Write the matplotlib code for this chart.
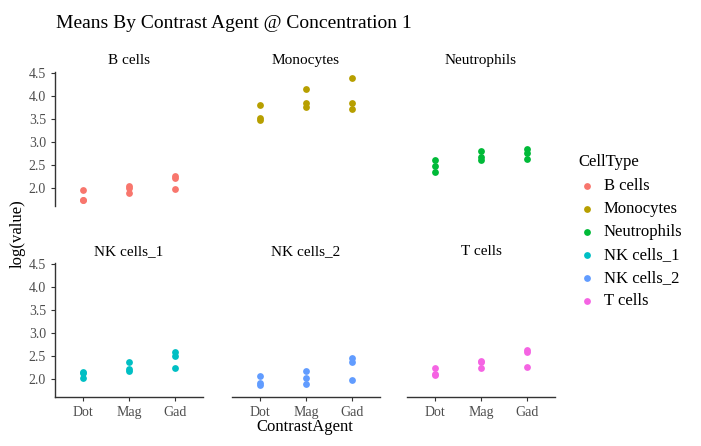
import matplotlib.pyplot as plt

plt.rcParams["font.family"] = ["Liberation Serif", "DejaVu Serif"]

agents = ["Dot", "Mag", "Gad"]
cell_types = ["B cells", "Monocytes", "Neutrophils", "NK cells_1", "NK cells_2", "T cells"]
colors = ["#F8766D", "#B79F00", "#00BA38", "#00BFC4", "#619CFF", "#F564E3"]

b_cells = [[1.95, 1.73, 1.74], [2.04, 2.00, 1.89], [2.26, 2.21, 1.97]]
monocytes = [[3.80, 3.52, 3.48], [4.14, 3.84, 3.76], [4.39, 3.84, 3.72]]
neutrophils = [[2.61, 2.47, 2.35], [2.81, 2.67, 2.61], [2.84, 2.77, 2.63]]
nk_cells_1 = [[2.16, 2.13, 2.03], [2.36, 2.21, 2.18], [2.58, 2.51, 2.23]]
nk_cells_2 = [[2.07, 1.91, 1.86], [2.17, 2.02, 1.90], [2.45, 2.37, 1.97]]
t_cells = [[2.25, 2.11, 2.08], [2.40, 2.37, 2.24], [2.64, 2.58, 2.26]]
series = [b_cells, monocytes, neutrophils, nk_cells_1, nk_cells_2, t_cells]

W, H = 701, 446
fig = plt.figure(figsize=(W / 100, H / 100), dpi=100)
lefts = [55, 232, 407]
tops = [72, 263]
pw, ph = 148, 134

for i, (name, vals, col) in enumerate(zip(cell_types, series, colors)):
    r, c = divmod(i, 3)
    ax = fig.add_axes([lefts[c] / W, 1 - (tops[r] + ph) / H, pw / W, ph / H])
    for j, pts in enumerate(vals):
        ax.scatter([j + 1] * len(pts), pts, s=24, color=col, linewidths=0)
    ax.set_xlim(0.4, 3.6)
    ax.set_ylim(1.61, 4.52)
    ax.set_yticks([2.0, 2.5, 3.0, 3.5, 4.0, 4.5])
    ax.set_xticks([1, 2, 3])
    for s in ["top", "right"]:
        ax.spines[s].set_visible(False)
    for s in ["left", "bottom"]:
        ax.spines[s].set_color("#333333")
        ax.spines[s].set_linewidth(1.0)
    ax.tick_params(colors="#333333", labelcolor="#4d4d4d", labelsize=10, length=3)
    if c == 0:
        ax.set_yticklabels(["2.0", "2.5", "3.0", "3.5", "4.0", "4.5"])
    else:
        ax.spines["left"].set_visible(False)
        ax.tick_params(axis="y", left=False, labelleft=False)
    if r == 1:
        ax.set_xticklabels(agents)
    else:
        ax.spines["bottom"].set_visible(False)
        ax.tick_params(axis="x", bottom=False, labelbottom=False)
    ax.set_title(name, fontsize=11, pad=6)

fig.text(56 / W, 1 - 24 / H, "Means By Contrast Agent @ Concentration 1", fontsize=14, va="center")
fig.text(305 / W, 1 - 427 / H, "ContrastAgent", fontsize=12, ha="center", va="center")
fig.text(18 / W, 1 - 234 / H, "log(value)", fontsize=12, ha="center", va="center", rotation=90)

# legend drawn on its own axes in pixel coordinates
lax = fig.add_axes([0, 0, 1, 1], facecolor="none")
lax.set_xlim(0, W)
lax.set_ylim(H, 0)
lax.set_axis_off()
lax.text(578, 162, "CellType", fontsize=12, va="center")
for k, (name, col) in enumerate(zip(cell_types, colors)):
    y = 186 + k * 23
    lax.scatter([587], [y], s=24, color=col, linewidths=0)
    lax.text(604, y, name, fontsize=12, va="center")

fig.savefig("out.png", dpi=100)
